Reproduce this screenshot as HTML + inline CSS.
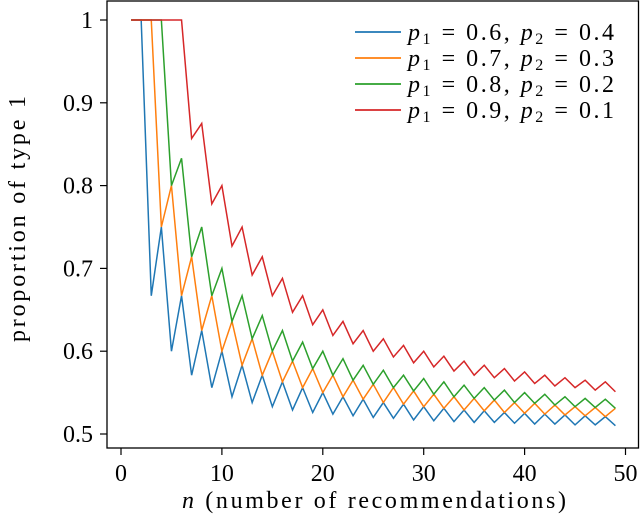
<!DOCTYPE html>
<html><head><meta charset="utf-8"><style>
body{margin:0;background:#fff}
svg text{font-family:"Liberation Serif",serif;fill:#000}
</style></head><body>
<svg id="chart" width="640" height="522" viewBox="0 0 640 522" xmlns="http://www.w3.org/2000/svg">
<g id="plot"></g>
<rect x="107" y="1" width="531.5" height="447" fill="none" stroke="#000" stroke-width="1.3"/>
<g id="xt"></g>
<g id="yt"></g>
<text x="182" y="508" font-size="24" textLength="384" lengthAdjust="spacing"><tspan font-style="italic">n</tspan> (number of recommendations)</text>
<text transform="translate(25,342) rotate(-90)" font-size="24" textLength="246" lengthAdjust="spacing">proportion of type 1</text>
<g id="legend"></g>
</svg>
<script>
const ns="http://www.w3.org/2000/svg";
const nValues=[1,2,3,4,5,6,7,8,9,10,11,12,13,14,15,16,17,18,19,20,21,22,23,24,25,26,27,28,29,30,31,32,33,34,35,36,37,38,39,40,41,42,43,44,45,46,47,48,49];
const blue=[1,1,.667,.75,.6,.667,.571,.625,.556,.6,.545,.583,.538,.571,.533,.563,.529,.556,.526,.55,.524,.545,.522,.542,.52,.538,.519,.536,.517,.533,.516,.531,.515,.529,.514,.528,.514,.526,.513,.525,.512,.524,.512,.523,.511,.522,.511,.521,.510];
const orange=[1,1,1,.75,.8,.667,.714,.625,.667,.6,.636,.583,.615,.571,.6,.563,.588,.556,.579,.55,.571,.545,.565,.542,.56,.538,.556,.536,.552,.533,.548,.531,.545,.529,.543,.528,.541,.526,.538,.525,.537,.524,.535,.523,.533,.522,.532,.521,.531];
const green=[1,1,1,1,.8,.833,.714,.75,.667,.7,.636,.667,.615,.643,.6,.625,.588,.611,.579,.6,.571,.591,.565,.583,.56,.577,.556,.571,.552,.567,.548,.563,.545,.559,.543,.556,.541,.553,.538,.55,.537,.548,.535,.545,.533,.543,.532,.542,.531];
const red=[1,1,1,1,1,1,.857,.875,.778,.8,.727,.75,.692,.714,.667,.688,.647,.667,.632,.65,.619,.636,.609,.625,.6,.615,.593,.607,.586,.6,.581,.594,.576,.588,.571,.583,.568,.579,.564,.575,.561,.571,.558,.568,.556,.565,.553,.563,.551];
const seriesLabels=["p1=0.6,p2=0.4","p1=0.7,p2=0.3","p1=0.8,p2=0.2","p1=0.9,p2=0.1"];
const p1Labels=["0.6","0.7","0.8","0.9"];
const p2Labels=["0.4","0.3","0.2","0.1"];
const xTicks=[0,10,20,30,40,50];
const yTicks=[0.5,0.6,0.7,0.8,0.9,1];
const yTickLabels=["0.5","0.6","0.7","0.8","0.9","1"];
const colors=["#1f77b4","#ff7f0e","#2ca02c","#d62728"];
const X=v=>121+v*10.09;
const Y=v=>20+(1-v)*828;
function mk(t,a,p){const e=document.createElementNS(ns,t);for(const k in a)e.setAttribute(k,a[k]);p.appendChild(e);return e;}
const plot=document.getElementById('plot');
[blue,orange,green,red].forEach((s,i)=>{
  const pl=mk('polyline',{points:s.map((v,j)=>X(nValues[j])+','+Y(v)).join(' '),fill:'none',stroke:colors[i],'stroke-width':1.5,'stroke-linejoin':'miter'},plot);
  
  
});
const xt=document.getElementById('xt');
xTicks.forEach(t=>{
  const l=mk('line',{x1:X(t),x2:X(t),y1:448,y2:455,stroke:'#000','stroke-width':1.2},xt);
  
  
  const tx=mk('text',{x:X(t),y:481,'font-size':24,'text-anchor':'middle'},xt);
  tx.textContent=t;
  
  
});
const yt=document.getElementById('yt');
yTicks.forEach((t,i)=>{
  const l=mk('line',{x1:100,x2:107,y1:Y(t),y2:Y(t),stroke:'#000','stroke-width':1.2},yt);
  
  
  const tx=mk('text',{x:93,y:Y(t)+8,'font-size':24,'text-anchor':'end'},yt);
  tx.textContent=yTickLabels[i];
  
  
});
const lg=document.getElementById('legend');
seriesLabels.forEach((s,i)=>{
  const y=32+i*26;
  const l=mk('line',{x1:355,x2:401,y1:y,y2:y,stroke:colors[i],'stroke-width':1.8},lg);
  
  
  const tx=mk('text',{x:408,y:y+8,'font-size':24,textLength:206,lengthAdjust:'spacing'},lg);
  tx.innerHTML='<tspan font-style="italic">p</tspan><tspan font-size="16" dy="4">1</tspan><tspan dy="-4"> = '+p1Labels[i]+', </tspan><tspan font-style="italic">p</tspan><tspan font-size="16" dy="4">2</tspan><tspan dy="-4"> = '+p2Labels[i]+'</tspan>';
  
  
});
</script>
</body></html>
